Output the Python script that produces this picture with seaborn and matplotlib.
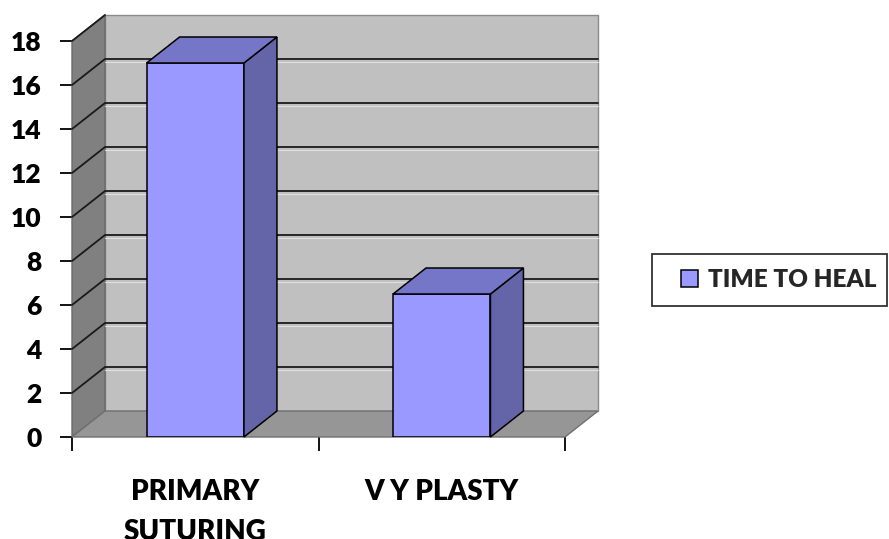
import matplotlib
matplotlib.use("Agg")
import matplotlib.pyplot as plt
from matplotlib.patches import Polygon, Rectangle
import seaborn as sns
import pandas as pd

# Chart data
categories = ["PRIMARY\nSUTURING", "V Y PLASTY"]
time_to_heal = [17, 6.5]
series_name = "TIME TO HEAL"
y_ticks = [0, 2, 4, 6, 8, 10, 12, 14, 16, 18]

df = pd.DataFrame({"group": categories, "days": time_to_heal})

sns.set_theme(style="white")
plt.rcParams["font.family"] = ["Lato", "DejaVu Sans"]
plt.rcParams["font.weight"] = "heavy"
WEIGHT = "heavy"

W, H = 889, 539
fig = plt.figure(figsize=(W / 100, H / 100), dpi=100)
fig.patch.set_facecolor("white")

# front plane of the 3-D box in pixel coordinates
x0_px, x1_px, y0_px, y1_px = 72, 565, 437, 41
ax = fig.add_axes([x0_px / W, 1 - y0_px / H, (x1_px - x0_px) / W, (y0_px - y1_px) / H])
ax.set_facecolor("none")

XMIN, XMAX, YMAX = -0.5, 1.5, 18
# depth offset of the box (data units)
DX = 33 / ((x1_px - x0_px) / 2)
DY = 26 / ((y0_px - y1_px) / YMAX)

FRONT = "#9999ff"
TOP = "#7676c8"
SIDE = "#6464a8"

# walls and floor
back = Polygon([(XMIN + DX, DY), (XMAX + DX, DY), (XMAX + DX, YMAX + DY), (XMIN + DX, YMAX + DY)],
               closed=True, facecolor="#c0c0c0", edgecolor="#8a8a8a", lw=1, zorder=0.5, clip_on=False)
side = Polygon([(XMIN, 0), (XMIN + DX, DY), (XMIN + DX, YMAX + DY), (XMIN, YMAX)],
               closed=True, facecolor="#808080", edgecolor="#6a6a6a", lw=1, zorder=0.6, clip_on=False)
floor = Polygon([(XMIN, 0), (XMAX, 0), (XMAX + DX, DY), (XMIN + DX, DY)],
                closed=True, facecolor="#969696", edgecolor="#707070", lw=1, zorder=0.7, clip_on=False)
for p in (back, side, floor):
    ax.add_patch(p)

# gridlines across the side wall and back wall
for v in y_ticks[1:-1]:
    ax.plot([XMIN, XMIN + DX, XMAX + DX], [v, v + DY, v + DY], color="#1a1a1a", lw=1.3,
            zorder=0.8, clip_on=False, solid_joinstyle="miter")
    ax.plot([XMIN + DX, XMAX + DX], [v + DY - 0.12, v + DY - 0.12], color="#e0e0e0", lw=0.8,
            zorder=0.75, clip_on=False)
ax.plot([XMIN, XMIN + DX], [YMAX, YMAX + DY], color="#1a1a1a", lw=1.3, zorder=0.8, clip_on=False)

# front faces of the columns
sns.barplot(data=df, x="group", y="days", ax=ax, color=FRONT, width=0.395,
            edgecolor="black", linewidth=1.1, saturation=1, label=series_name, zorder=3)

# top and side faces built from each column's geometry
for bar in list(ax.patches):
    if not hasattr(bar, "get_width") or bar in (back, side, floor):
        continue
    bx, bw, bh = bar.get_x(), bar.get_width(), bar.get_height()
    top = Polygon([(bx, bh), (bx + bw, bh), (bx + bw + DX, bh + DY), (bx + DX, bh + DY)],
                  closed=True, facecolor=TOP, edgecolor="black", lw=1.1, zorder=3, clip_on=False)
    sface = Polygon([(bx + bw, 0), (bx + bw + DX, DY), (bx + bw + DX, bh + DY), (bx + bw, bh)],
                    closed=True, facecolor=SIDE, edgecolor="black", lw=1.1, zorder=3, clip_on=False)
    ax.add_patch(sface)
    ax.add_patch(top)

ax.set_xlim(XMIN, XMAX)
ax.set_ylim(0, YMAX)
for s in ax.spines.values():
    s.set_visible(False)

ax.set_xlabel("")
ax.set_ylabel("")
ax.set_yticks(y_ticks)
ax.set_yticklabels([str(t) for t in y_ticks], fontsize=19, fontweight=WEIGHT, color="black")
ax.tick_params(axis="y", which="major", left=True, length=9, width=1.3, color="black", pad=13, direction="out")

ax.set_xticks([0, 1])
ax.set_xticklabels(categories, fontsize=20, fontweight=WEIGHT, color="black", linespacing=1.68)
ax.tick_params(axis="x", which="major", bottom=True, length=0, pad=30)
ax.set_xticks([XMIN, 0.5, XMAX], minor=True)
ax.tick_params(axis="x", which="minor", bottom=True, length=10, width=1.3, color="black", direction="out")

if ax.get_legend() is not None:
    ax.get_legend().remove()
handles, labels = ax.get_legend_handles_labels()
leg = fig.legend(handles[:1], labels[:1], loc="center left", bbox_to_anchor=(681 / W, 1 - 280 / H),
                 frameon=False, prop={"family": "Lato", "weight": WEIGHT, "size": 17.5},
                 handlelength=0.68, handleheight=0.68, handletextpad=0.45,
                 borderpad=0, borderaxespad=0)

# legend box
fig.add_artist(Rectangle((652 / W, 1 - 306 / H), (887 - 652) / W, (306 - 254) / H,
                         transform=fig.transFigure, facecolor="none", edgecolor="#333333",
                         lw=1.3, zorder=5))

fig.savefig("out.png", dpi=100)
